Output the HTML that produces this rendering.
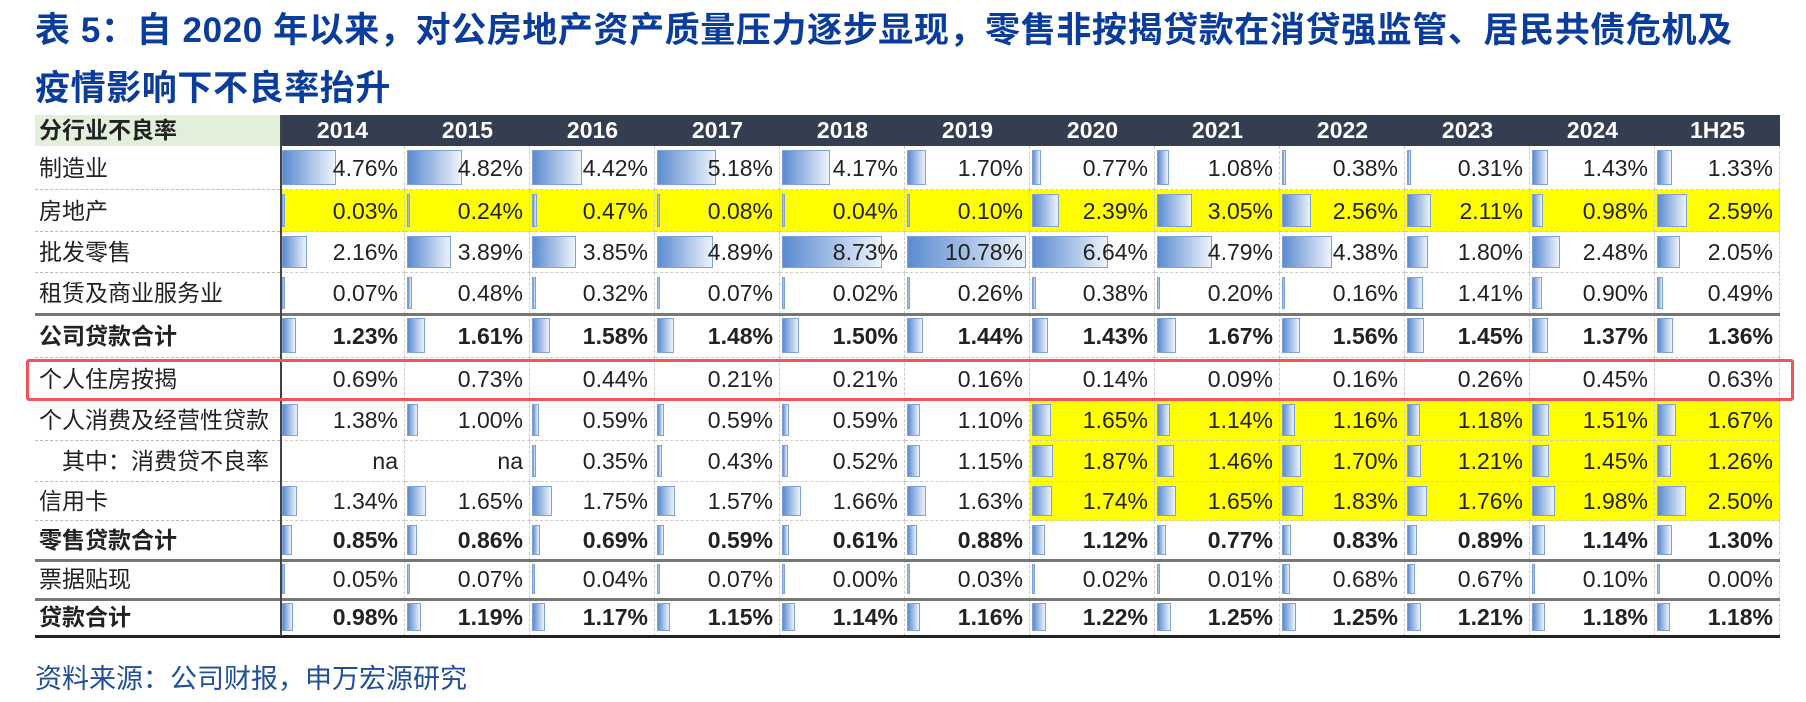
<!DOCTYPE html>
<html><head><meta charset="utf-8">
<style>
body{margin:0;width:1806px;height:702px;background:#fff;position:relative;overflow:hidden;font-family:"Liberation Sans","Noto Sans CJK SC",sans-serif;}
.t{position:absolute;left:35px;color:#0a3c9c;font-weight:bold;font-size:35px;white-space:nowrap;letter-spacing:0.6px}
.c{position:absolute;box-sizing:border-box;font-size:23px;color:#222;white-space:nowrap;}
.lab{padding-left:4px;}
.val{text-align:right;padding-right:6px;border-right:1px dashed #ccc;}
.bar{position:absolute;left:2px;top:4px;bottom:4px;background:linear-gradient(to right,#5b8bd0,#eef3fb);border:1px solid #7ea2d8;box-sizing:border-box;}
</style></head><body>
<div class="t" style="top:2px">表 5：自 2020 年以来，对公房地产资产质量压力逐步显现，零售非按揭贷款在消贷强监管、居民共债危机及</div>
<div class="t" style="top:60px">疫情影响下不良率抬升</div>
<div id="tbl"></div>
<div style="position:absolute;left:35px;top:657px;font-size:27px;color:#1f4e9a">资料来源：公司财报，申万宏源研究</div>
<div style="position:absolute;left:26px;top:359px;width:1768px;height:42px;border:3px solid #f0545a;border-radius:3px;box-sizing:border-box"></div>
<script>
const years=["2014","2015","2016","2017","2018","2019","2020","2021","2022","2023","2024","1H25"];
const rowLabels=["制造业","房地产","批发零售","租赁及商业服务业","公司贷款合计","个人住房按揭","个人消费及经营性贷款","　其中：消费贷不良率","信用卡","零售贷款合计","票据贴现","贷款合计"];
const r0=[4.76,4.82,4.42,5.18,4.17,1.70,0.77,1.08,0.38,0.31,1.43,1.33];
const r1=[0.03,0.24,0.47,0.08,0.04,0.10,2.39,3.05,2.56,2.11,0.98,2.59];
const r2=[2.16,3.89,3.85,4.89,8.73,10.78,6.64,4.79,4.38,1.80,2.48,2.05];
const r3=[0.07,0.48,0.32,0.07,0.02,0.26,0.38,0.20,0.16,1.41,0.90,0.49];
const r4=[1.23,1.61,1.58,1.48,1.50,1.44,1.43,1.67,1.56,1.45,1.37,1.36];
const r5=[0.69,0.73,0.44,0.21,0.21,0.16,0.14,0.09,0.16,0.26,0.45,0.63];
const r6=[1.38,1.00,0.59,0.59,0.59,1.10,1.65,1.14,1.16,1.18,1.51,1.67];
const r7=[null,null,0.35,0.43,0.52,1.15,1.87,1.46,1.70,1.21,1.45,1.26];
const r8=[1.34,1.65,1.75,1.57,1.66,1.63,1.74,1.65,1.83,1.76,1.98,2.50];
const r9=[0.85,0.86,0.69,0.59,0.61,0.88,1.12,0.77,0.83,0.89,1.14,1.30];
const r10=[0.05,0.07,0.04,0.07,0.00,0.03,0.02,0.01,0.68,0.67,0.10,0.00];
const r11=[0.98,1.19,1.17,1.15,1.14,1.16,1.22,1.25,1.25,1.21,1.18,1.18];
const rows=[r0,r1,r2,r3,r4,r5,r6,r7,r8,r9,r10,r11];
const boldRows=[4,9,11];
const L=35,LW=245,X0=280,CW=125,H0=115,HH=31;
const rowTops=[146,190,232,273,314,358,400,441,482,521,560,599,636];
const tbl=document.getElementById('tbl');
function mk(cls,x,y,w,h){const d=document.createElement('div');d.className='c '+cls;d.style.left=x+'px';d.style.top=y+'px';d.style.width=w+'px';d.style.height=h+'px';d.style.lineHeight=h+'px';tbl.appendChild(d);return d;}
function xScale(v){return Math.max(3,v*11.4);}
let h=mk('lab',L,H0,LW,HH);h.style.background='#e2efda';h.style.fontWeight='bold';h.textContent='分行业不良率';


years.forEach((y,j)=>{const d=mk('',X0+j*CW,H0,CW,HH);d.style.background='#333f50';d.style.color='#fff';d.style.fontWeight='bold';d.style.textAlign='center';d.textContent=y;

});
rows.forEach((r,i)=>{const y=rowTops[i];const RH=rowTops[i+1]-rowTops[i];const bold=boldRows.includes(i);
const lb=mk('lab',L,y,LW,RH);lb.textContent=rowLabels[i];if(bold)lb.style.fontWeight='bold';
lb.style.borderBottom='1px dashed #bbb';


r.forEach((v,j)=>{const d=mk('val',X0+j*CW,y,CW,RH);
const yellow=(i===1)||((i===6||i===7||i===8)&&j>=6);
if(yellow)d.style.background='#ffff00';
if(bold)d.style.fontWeight='bold';
d.style.borderBottom='1px dashed #ccc';
if(v!==null&&i!==5){const b=document.createElement('div');b.className='bar';b.style.width=Math.min(CW-6,xScale(v))+'px';


d.appendChild(b);}
const s=document.createElement('span');s.style.position='relative';s.textContent=v===null?'na':v.toFixed(2)+'%';d.appendChild(s);

});
});
[4,10,11,12].forEach(k=>{const ln=document.createElement('div');ln.style.cssText='position:absolute;left:'+L+'px;width:'+(X0+12*CW-L)+'px;height:3px;top:'+(rowTops[k]-1.5)+'px;background:'+(k===12?'#222':'#777');


tbl.appendChild(ln);});
const vl=document.createElement('div');vl.style.cssText='position:absolute;left:'+X0+'px;top:'+H0+'px;width:2px;height:'+(rowTops[12]-H0)+'px;background:#444';


tbl.appendChild(vl);
</script>
</body></html>
